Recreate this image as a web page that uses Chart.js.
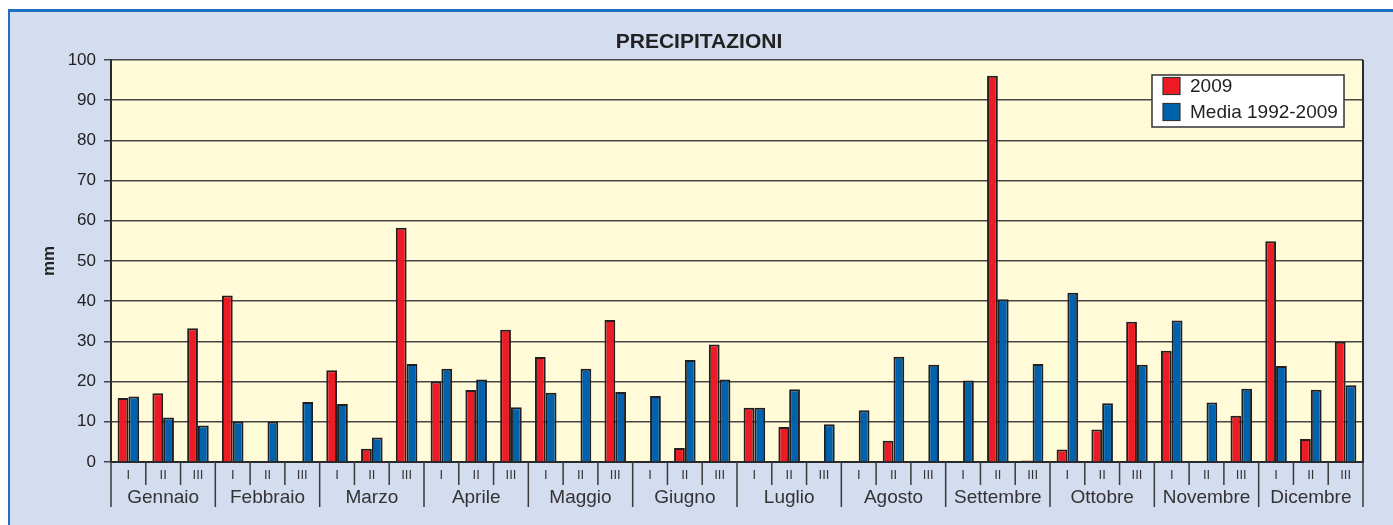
<!DOCTYPE html>
<html>
<head>
<meta charset="utf-8">
<title>Precipitazioni</title>
<script src="https://cdn.jsdelivr.net/npm/chart.js@4/dist/chart.umd.min.js"></script>
<style>
  html, body { margin: 0; padding: 0; background: #ffffff; }
  body { width: 1393px; height: 525px; position: relative; overflow: hidden; }
  #frame {
    position: absolute; left: 8px; top: 9px; width: 1400px; height: 530px;
    background: #d4dcef; border-top: 3px solid #1f6fc1; border-left: 2px solid #1f6fc1;
  }
  #chart { position: absolute; left: 0; top: 0; }
</style>
</head>
<body>
<div id="frame"></div>
<canvas id="chart" width="1393" height="525"></canvas>
<script>
// Decadi di ciascun mese e nomi dei mesi
const decadi = ['I', 'II', 'III'];
const mesi = ['Gennaio', 'Febbraio', 'Marzo', 'Aprile', 'Maggio', 'Giugno',
              'Luglio', 'Agosto', 'Settembre', 'Ottobre', 'Novembre', 'Dicembre'];

// Precipitazioni per decade (mm)
const pioggia2009 = [
  15.9, 17.1, 33.3,   41.4, 0, 0,        22.8, 3.3, 58.3,
  20.0, 17.9, 32.9,   26.1, 0.2, 35.3,   0, 3.5, 29.2,
  13.5, 8.7, 0,       0, 5.3, 0,         0, 96.1, 0.4,
  3.1, 8.1, 34.9,     27.7, 0, 11.5,     54.9, 5.7, 29.9
];
const media1992_2009 = [
  16.3, 11.1, 9.1,    10.1, 10.1, 14.9,  14.4, 6.1, 24.4,
  23.2, 20.5, 13.6,   17.2, 23.2, 17.4,  16.4, 25.4, 20.5,
  13.5, 18.1, 9.4,    12.9, 26.2, 24.2,  20.3, 40.5, 24.4,
  42.1, 14.6, 24.2,   35.2, 14.8, 18.2,  23.9, 18.0, 19.1
];

// Valori dell'asse y
const tickY = [0, 10, 20, 30, 40, 50, 60, 70, 80, 90, 100];

const etichette = [];
mesi.forEach(() => decadi.forEach(d => etichette.push(d)));

const FONT = "'Liberation Sans', Arial, sans-serif";
const SCURO = '#2a2a2a';

// Sfondo giallo dell'area del grafico
const sfondoArea = {
  id: 'sfondoArea',
  beforeDraw(chart) {
    const { ctx, chartArea: a } = chart;
    ctx.save();
    ctx.fillStyle = '#fffad7';
    ctx.fillRect(a.left, a.top, a.right - a.left, a.bottom - a.top);
    ctx.restore();
  }
};

// Separatori tra decadi e mesi sotto l'asse x, bordo destro dell'area
const separatori = {
  id: 'separatori',
  afterDraw(chart) {
    const { ctx, chartArea: a } = chart;
    const x = chart.scales.x;
    const n = etichette.length;
    ctx.save();
    ctx.strokeStyle = '#3a3a3a';
    ctx.lineWidth = 1.5;
    for (let i = 0; i <= n; i++) {
      let px;
      if (i === 0) px = a.left;
      else if (i === n) px = a.right;
      else px = (x.getPixelForValue(i - 1) + x.getPixelForValue(i)) / 2;
      const lungo = i % decadi.length === 0;
      ctx.beginPath();
      ctx.moveTo(px, a.bottom);
      ctx.lineTo(px, a.bottom + (lungo ? 45 : 23));
      ctx.stroke();
    }
    // bordo destro
    ctx.strokeStyle = SCURO;
    ctx.lineWidth = 2;
    ctx.beginPath();
    ctx.moveTo(a.right, a.top);
    ctx.lineTo(a.right, a.bottom);
    ctx.stroke();
    ctx.restore();
  }
};

// Legenda riquadrata in alto a destra
const legendaRiquadro = {
  id: 'legendaRiquadro',
  afterDraw(chart) {
    const { ctx, chartArea: a } = chart;
    const w = 192, h = 52;
    const x0 = a.right - 19 - w, y0 = a.top + 15;
    ctx.save();
    ctx.fillStyle = '#ffffff';
    ctx.fillRect(x0, y0, w, h);
    ctx.strokeStyle = '#333333';
    ctx.lineWidth = 1.5;
    ctx.strokeRect(x0, y0, w, h);
    ctx.font = '19px ' + FONT;
    ctx.textBaseline = 'middle';
    chart.data.datasets.forEach((ds, k) => {
      const sy = y0 + 2.5 + k * 26;
      ctx.fillStyle = ds.backgroundColor;
      ctx.fillRect(x0 + 11, sy, 17, 17);
      ctx.strokeStyle = '#333333';
      ctx.lineWidth = 1.2;
      ctx.strokeRect(x0 + 11, sy, 17, 17);
      ctx.fillStyle = '#222222';
      ctx.fillText(ds.label, x0 + 38, sy + 9.5);
    });
    ctx.restore();
  }
};

new Chart(document.getElementById('chart'), {
  type: 'bar',
  data: {
    labels: etichette,
    datasets: [
      {
        label: '2009',
        data: pioggia2009,
        backgroundColor: '#ed1c24',
        borderColor: '#231f20',
        borderWidth: 2,
        categoryPercentage: 0.62,
        barPercentage: 1.0,
        xAxisID: 'x'
      },
      {
        label: 'Media 1992-2009',
        data: media1992_2009,
        backgroundColor: '#0061ad',
        borderColor: '#231f20',
        borderWidth: 2,
        categoryPercentage: 0.62,
        barPercentage: 1.0,
        xAxisID: 'x'
      }
    ]
  },
  options: {
    responsive: false,
    animation: false,
    devicePixelRatio: 1,
    layout: { padding: { left: 35, right: 30, top: 10, bottom: 0 } },
    plugins: {
      legend: { display: false },
      tooltip: { enabled: false },
      title: {
        display: true,
        text: 'PRECIPITAZIONI',
        color: '#222222',
        font: { family: FONT, size: 21, weight: 'bold' },
        padding: { top: 20, bottom: 4.8 }
      }
    },
    scales: {
      x: {
        type: 'category',
        position: 'bottom',
        grid: { display: false, drawTicks: false },
        border: { display: true, color: SCURO, width: 2 },
        ticks: {
          color: '#333333',
          font: { family: FONT, size: 13 },
          padding: 6,
          autoSkip: false,
          maxRotation: 0
        },
        afterFit(s) { s.height = 22; }
      },
      mesi: {
        type: 'category',
        position: 'bottom',
        labels: mesi,
        grid: { display: false, drawTicks: false },
        border: { display: false },
        ticks: {
          color: '#333333',
          font: { family: FONT, size: 19 },
          padding: 2,
          autoSkip: false,
          maxRotation: 0
        },
        afterFit(s) { s.height = 41; }
      },
      y: {
        min: 0,
        max: 100,
        afterBuildTicks(s) { s.ticks = tickY.map(v => ({ value: v })); },
        grid: { color: '#464646', lineWidth: 1.5, drawTicks: true, tickLength: 7 },
        border: { display: true, color: SCURO, width: 2 },
        ticks: {
          color: '#222222',
          font: { family: FONT, size: 17 },
          padding: 8
        },
        title: {
          display: true,
          text: 'mm',
          color: '#222222',
          font: { family: FONT, size: 17, weight: 'bold' },
          padding: { top: 4, bottom: 4 }
        },
        afterFit(s) { s.width = 76; }
      }
    }
  },
  plugins: [sfondoArea, separatori, legendaRiquadro]
});
</script>
</body>
</html>
